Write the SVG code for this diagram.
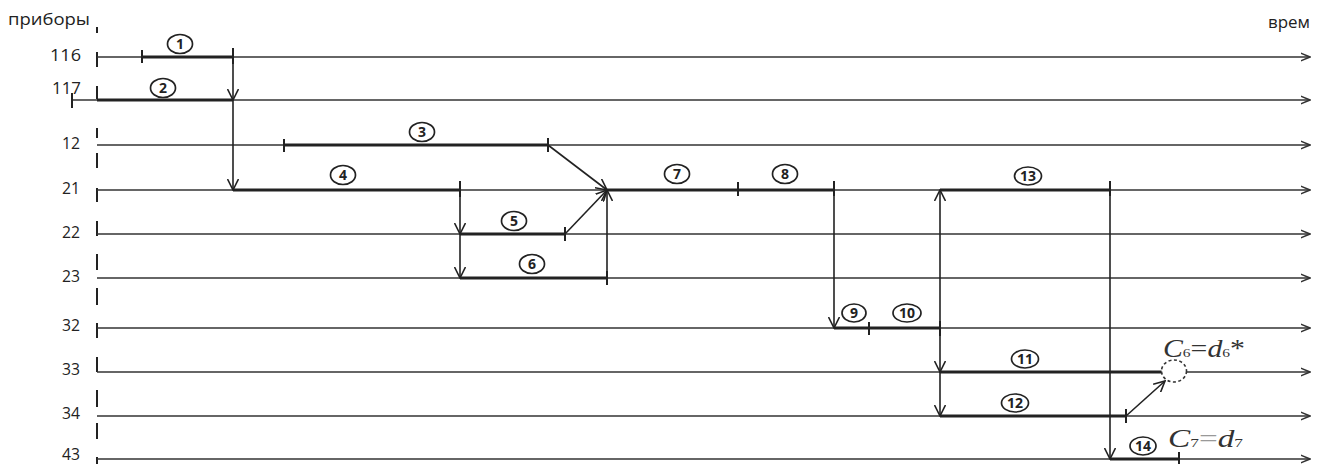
<svg xmlns="http://www.w3.org/2000/svg" width="1322" height="464" viewBox="0 0 1322 464">
<style>
.bg{fill:#fff}
.ax{stroke:#222;stroke-width:2;fill:none}
.ln{stroke:#333;stroke-width:1.5;fill:none}
.hv{stroke:#222;stroke-width:3;fill:none}
.tk{stroke:#222;stroke-width:2}
.ar{stroke:#222;stroke-width:1.6;fill:none}
.lbl{font-family:"Open Sans","DejaVu Sans",sans-serif;font-size:16px;fill:#222}
.num ellipse{fill:#fff;stroke:#222;stroke-width:1.7}
.num text{font-family:"Open Sans","DejaVu Sans",sans-serif;font-size:14px;font-weight:700;fill:#222;text-anchor:middle}
.math{font-family:"Liberation Serif","Times New Roman",serif;font-size:25px;fill:#333}
</style>
<defs>
<marker id="ah" viewBox="0 0 12 12" refX="11" refY="6" markerWidth="12" markerHeight="12" markerUnits="userSpaceOnUse" orient="auto">
<path d="M0,0.5 L11,6 L0,11.5" fill="none" stroke="#222" stroke-width="1.6"/>
</marker>
<marker id="ae" viewBox="0 0 10 10" refX="9.5" refY="5" markerWidth="10" markerHeight="10" markerUnits="userSpaceOnUse" orient="auto">
<path d="M0,1 L9.5,5 L0,9" fill="none" stroke="#333" stroke-width="1.5"/>
</marker>
</defs>
<rect class="bg" x="0" y="0" width="1322" height="464"/>

<g id="axis">
<path class="ax" d="M97,27V33M97,52V67M97,86V99M97,128V138M97,153V168M97,188V202M97,221V236M97,254V270M97,288V305M97,323V338M97,357V372M97,390V407M97,423V439M97,457V464"/>
<text class="lbl" x="8" y="25" textLength="82" lengthAdjust="spacingAndGlyphs">приборы</text>
<text class="lbl" x="1268" y="28" textLength="42" lengthAdjust="spacingAndGlyphs">врем</text>
</g>

<g id="rows">
<g id="row-116"><text class="lbl" x="50" y="61" textLength="31" lengthAdjust="spacingAndGlyphs">116</text><line class="ln" x1="97" y1="57" x2="1310" y2="57" marker-end="url(#ae)"/></g>
<g id="row-117"><text class="lbl" x="52" y="94" textLength="29" lengthAdjust="spacingAndGlyphs">117</text><line class="ln" x1="72" y1="100" x2="1310" y2="100" marker-end="url(#ae)"/><line class="tk" x1="72" y1="93" x2="72" y2="108"/></g>
<g id="row-12"><text class="lbl" x="62" y="149" textLength="18" lengthAdjust="spacingAndGlyphs">12</text><line class="ln" x1="97" y1="145" x2="1310" y2="145" marker-end="url(#ae)"/></g>
<g id="row-21"><text class="lbl" x="62" y="194" textLength="18" lengthAdjust="spacingAndGlyphs">21</text><line class="ln" x1="97" y1="190" x2="1310" y2="190" marker-end="url(#ae)"/></g>
<g id="row-22"><text class="lbl" x="62" y="238" textLength="18" lengthAdjust="spacingAndGlyphs">22</text><line class="ln" x1="97" y1="234" x2="1310" y2="234" marker-end="url(#ae)"/></g>
<g id="row-23"><text class="lbl" x="62" y="282" textLength="18" lengthAdjust="spacingAndGlyphs">23</text><line class="ln" x1="97" y1="278" x2="1310" y2="278" marker-end="url(#ae)"/></g>
<g id="row-32"><text class="lbl" x="62" y="331" textLength="18" lengthAdjust="spacingAndGlyphs">32</text><line class="ln" x1="97" y1="328" x2="1310" y2="328" marker-end="url(#ae)"/></g>
<g id="row-33"><text class="lbl" x="62" y="375" textLength="18" lengthAdjust="spacingAndGlyphs">33</text><line class="ln" x1="97" y1="372" x2="1310" y2="372" marker-end="url(#ae)"/></g>
<g id="row-34"><text class="lbl" x="62" y="419" textLength="18" lengthAdjust="spacingAndGlyphs">34</text><line class="ln" x1="97" y1="416" x2="1310" y2="416" marker-end="url(#ae)"/></g>
<g id="row-43"><text class="lbl" x="62" y="460" textLength="18" lengthAdjust="spacingAndGlyphs">43</text><line class="ln" x1="97" y1="459" x2="1310" y2="459" marker-end="url(#ae)"/></g>
</g>

<g id="tasks">
<path class="hv" d="M142,57H233M97,100H233M284,145H548M233,190H460M607,190H834M940,190H1110M460,234H565M460,278H607M834,328H940M940,372H1162M940,416H1126M1110,459H1179"/>
<path class="tk" d="M142,50V63M233,48V64M284,139V152M548,138V152M460,181V197M738,182V196M834,181V196M1110,181V196M565,227V241M607,271V285M869,322V335M940,321V336M1126,409V423M1179,452V464"/>
</g>

<g id="connectors">
<line class="ar" x1="233" y1="57" x2="233" y2="100" marker-end="url(#ah)"/>
<line class="ar" x1="233" y1="100" x2="233" y2="190" marker-end="url(#ah)"/>
<line class="ar" x1="548" y1="145" x2="607" y2="190" marker-end="url(#ah)"/>
<line class="ar" x1="460" y1="190" x2="460" y2="234" marker-end="url(#ah)"/>
<line class="ar" x1="460" y1="234" x2="460" y2="278" marker-end="url(#ah)"/>
<line class="ar" x1="565" y1="234" x2="607" y2="190" marker-end="url(#ah)"/>
<line class="ar" x1="607" y1="278" x2="607" y2="190" marker-end="url(#ah)"/>
<line class="ar" x1="834" y1="190" x2="834" y2="328" marker-end="url(#ah)"/>
<line class="ar" x1="940" y1="328" x2="940" y2="190" marker-end="url(#ah)"/>
<line class="ar" x1="940" y1="328" x2="940" y2="372" marker-end="url(#ah)"/>
<line class="ar" x1="940" y1="372" x2="940" y2="416" marker-end="url(#ah)"/>
<line class="ar" x1="1110" y1="190" x2="1110" y2="459" marker-end="url(#ah)"/>
<line class="ar" x1="1126" y1="416" x2="1165" y2="381" marker-end="url(#ah)"/>
</g>

<g id="event-c6">
<ellipse cx="1174" cy="371" rx="12.5" ry="11" fill="#fff" stroke="#333" stroke-width="1.6" stroke-dasharray="3 2.5"/>
<text class="math" x="1163" y="357" textLength="82" lengthAdjust="spacingAndGlyphs"><tspan font-style="italic">C</tspan><tspan font-size="13">6</tspan>=<tspan font-style="italic">d</tspan><tspan font-size="13">6</tspan>*</text>
</g>
<g id="event-c7">
<text class="math" x="1168" y="447" textLength="75" lengthAdjust="spacingAndGlyphs"><tspan font-style="italic">C</tspan><tspan font-size="13">7</tspan><tspan fill="#999">=</tspan><tspan font-style="italic">d</tspan><tspan font-size="13">7</tspan></text>
</g>

<g id="labels" class="num">
<g id="n1"><ellipse cx="180" cy="44" rx="12.5" ry="9.5"/><text x="180" y="49">1</text></g>
<g id="n2"><ellipse cx="163" cy="88" rx="12.5" ry="9.5"/><text x="163" y="93">2</text></g>
<g id="n3"><ellipse cx="422" cy="132" rx="12.5" ry="9.5"/><text x="422" y="137">3</text></g>
<g id="n4"><ellipse cx="343" cy="175" rx="12.5" ry="9.5"/><text x="343" y="180">4</text></g>
<g id="n5"><ellipse cx="514" cy="221" rx="12.5" ry="9.5"/><text x="514" y="226">5</text></g>
<g id="n6"><ellipse cx="532" cy="264" rx="12.5" ry="9.5"/><text x="532" y="269">6</text></g>
<g id="n7"><ellipse cx="677" cy="174" rx="12.5" ry="9.5"/><text x="677" y="179">7</text></g>
<g id="n8"><ellipse cx="785" cy="174" rx="12.5" ry="9.5"/><text x="785" y="179">8</text></g>
<g id="n9"><ellipse cx="854" cy="313" rx="12" ry="9"/><text x="854" y="318">9</text></g>
<g id="n10"><ellipse cx="907" cy="313" rx="14" ry="9"/><text x="907" y="318">10</text></g>
<g id="n11"><ellipse cx="1025" cy="359" rx="13.5" ry="9"/><text x="1025" y="364">11</text></g>
<g id="n12"><ellipse cx="1015" cy="403" rx="13.5" ry="9"/><text x="1015" y="408">12</text></g>
<g id="n13"><ellipse cx="1028" cy="176" rx="13.5" ry="9"/><text x="1028" y="181">13</text></g>
<g id="n14"><ellipse cx="1143" cy="446" rx="13" ry="9"/><text x="1143" y="451">14</text></g>
</g>
</svg>
